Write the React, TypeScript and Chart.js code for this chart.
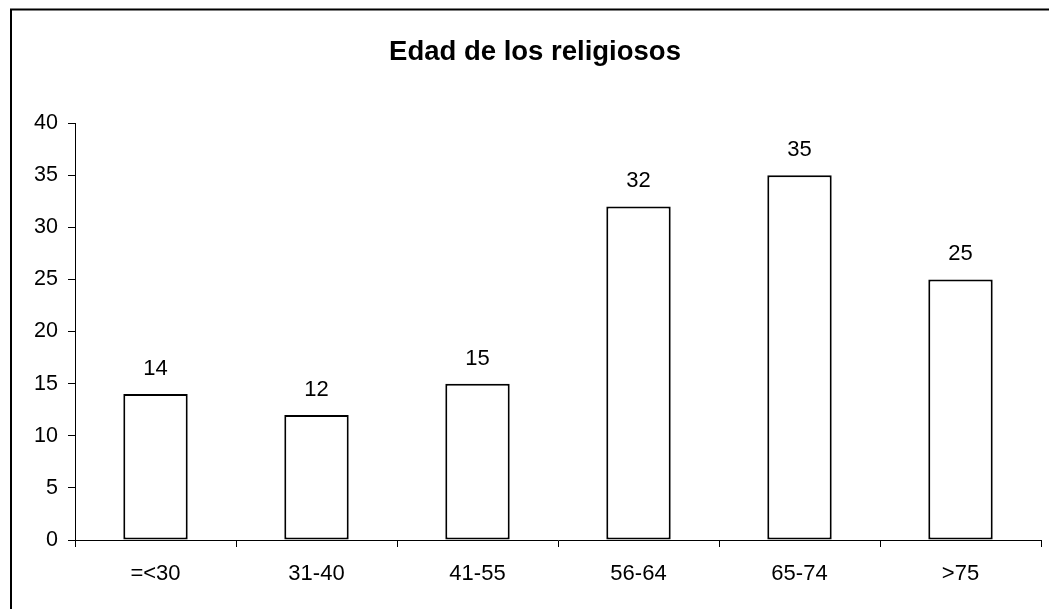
import React, { useEffect, useRef } from "react";
import { Chart, registerables } from "chart.js";

Chart.register(...registerables);

const TITLE = "Edad de los religiosos";
const categories = ["=<30", "31-40", "41-55", "56-64", "65-74", ">75"];
const values = [14, 12, 15, 32, 35, 25];
const yTicks = [0, 5, 10, 15, 20, 25, 30, 35, 40];

const FONT = "'Liberation Sans', Arial, sans-serif";

const framePlugin = {
  id: "frame",
  afterDraw(chart: any) {
    const ctx = chart.ctx;
    ctx.save();
    ctx.strokeStyle = "#000";
    ctx.lineWidth = 2;
    ctx.beginPath();
    ctx.moveTo(11, 700);
    ctx.lineTo(11, 9.5);
    ctx.lineTo(1100, 9.5);
    ctx.stroke();
    ctx.fillStyle = "#000";
    ctx.font = `bold 27.5px ${FONT}`;
    ctx.textAlign = "center";
    ctx.textBaseline = "middle";
    ctx.fillText(TITLE, 535, 52);
    ctx.restore();
  },
};

const labelPlugin = {
  id: "valueLabels",
  afterDatasetsDraw(chart: any) {
    const ctx = chart.ctx;
    const meta = chart.getDatasetMeta(0);
    ctx.save();
    ctx.fillStyle = "#000";
    ctx.font = `22px ${FONT}`;
    ctx.textAlign = "center";
    ctx.textBaseline = "middle";
    meta.data.forEach((bar: any, i: number) => {
      ctx.fillText(String(values[i]), bar.x, bar.y - 25);
    });
    ctx.restore();
  },
};

export default function App() {
  const ref = useRef<HTMLCanvasElement>(null);
  useEffect(() => {
    if (!ref.current) return;
    const chart = new Chart(ref.current, {
      type: "bar",
      data: {
        labels: categories,
        datasets: [
          {
            data: values,
            backgroundColor: "#ffffff",
            borderColor: "#000000",
            borderWidth: 2,
            borderSkipped: false,
            barPercentage: 0.4,
            categoryPercentage: 1,
          },
        ],
      },
      options: {
        responsive: false,
        animation: false,
        devicePixelRatio: 1,
        layout: { padding: { left: 0, right: 8, top: 123, bottom: 0 } },
        plugins: {
          legend: { display: false },
          title: { display: false },
          tooltip: { enabled: false },
        },
        scales: {
          x: {
            grid: {
              display: true,
              drawOnChartArea: false,
              drawTicks: true,
              tickLength: 7,
              color: "#000",
              offset: true,
            },
            border: { color: "#000", width: 1 },
            ticks: {
              color: "#000",
              font: { family: FONT, size: 22 },
              padding: 14,
            },
            afterFit(scale: any) {
              scale.height = 69;
            },
          },
          y: {
            min: 0,
            max: 40,
            afterBuildTicks(scale: any) {
              scale.ticks = yTicks.map((v) => ({ value: v }));
            },
            grid: {
              display: true,
              drawOnChartArea: false,
              drawTicks: true,
              tickLength: 7,
              color: "#000",
            },
            border: { color: "#000", width: 1 },
            ticks: {
              color: "#000",
              font: { family: FONT, size: 21.5 },
              padding: 10,
            },
            afterFit(scale: any) {
              scale.width = 75;
            },
          },
        },
      },
      plugins: [framePlugin, labelPlugin],
    });
    return () => chart.destroy();
  }, []);
  return (
    <div style={{ position: "fixed", left: 0, top: 0, width: 1049, height: 609, background: "#fff" }}>
      <canvas ref={ref} width={1049} height={609} style={{ display: "block" }} />
    </div>
  );
}
